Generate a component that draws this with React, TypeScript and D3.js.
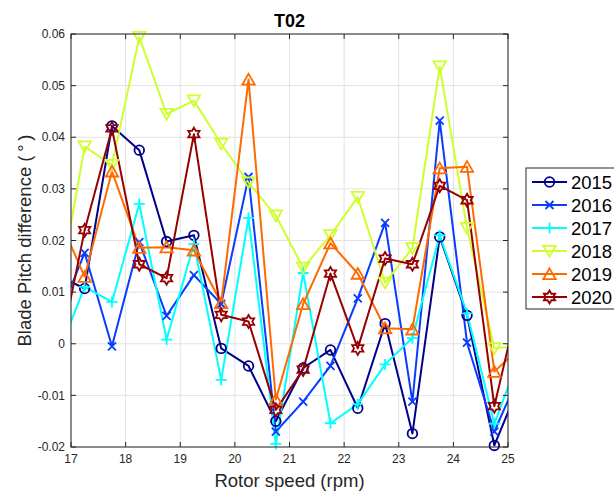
import React from 'react';
import * as d3 from 'd3';

// Rotor speed bins (outer two lie just outside the axis and are clipped)
const rpm = [16.75, 17.25, 17.75, 18.25, 18.75, 19.25, 19.75, 20.25, 20.75, 21.25, 21.75, 22.25, 22.75, 23.25, 23.75, 24.25, 24.75, 25.25];

const y2015 = [0.0133, 0.0107, 0.0422, 0.0375, 0.0198, 0.0210, -0.0009, -0.0043, -0.0150, -0.0047, -0.0012, -0.0125, 0.0039, -0.0174, 0.0207, 0.0055, -0.0197, -0.0069];
const y2016 = [0.0045, 0.0176, -0.0005, 0.0197, 0.0054, 0.0133, 0.0077, 0.0323, -0.0170, -0.0112, -0.0043, 0.0088, 0.0234, -0.0112, 0.0432, 0.0002, -0.0170, -0.0050];
const y2017 = [-0.0024, 0.0110, 0.0081, 0.0271, 0.0008, 0.0193, -0.0070, 0.0244, -0.0194, 0.0137, -0.0154, -0.0117, -0.0040, 0.0011, 0.0210, 0.0059, -0.0155, -0.0013];
const y2018 = [0.0084, 0.0382, 0.0346, 0.0594, 0.0445, 0.0471, 0.0387, 0.0312, 0.0248, 0.0147, 0.0210, 0.0284, 0.0118, 0.0185, 0.0537, 0.0224, -0.0009, -0.0004];
const y2019 = [0.0250, 0.0130, 0.0334, 0.0186, 0.0187, 0.0181, 0.0079, 0.0512, -0.0108, 0.0077, 0.0195, 0.0136, 0.0030, 0.0028, 0.0340, 0.0343, -0.0054, -0.0005];
const y2020 = [-0.0040, 0.0220, 0.0417, 0.0154, 0.0127, 0.0406, 0.0056, 0.0043, -0.0128, -0.0050, 0.0136, -0.0009, 0.0165, 0.0154, 0.0306, 0.0278, -0.0121, 0.0106];

const years = ['2015', '2016', '2017', '2018', '2019', '2020'];
const colors = ['#00008c', '#0a3cff', '#00ffff', '#cdff2e', '#ff6a00', '#960000'];
const markers = ['circle', 'x', 'plus', 'tdown', 'tup', 'hexagram'];
const seriesValues = [y2015, y2016, y2017, y2018, y2019, y2020];

const xTicks = [17, 18, 19, 20, 21, 22, 23, 24, 25];
const yTicks = [-0.02, -0.01, 0, 0.01, 0.02, 0.03, 0.04, 0.05, 0.06];
const yTickLabels = ['-0.02', '-0.01', '0', '0.01', '0.02', '0.03', '0.04', '0.05', '0.06'];

const W = 614, H = 494;
const L = 71, R = 508, T = 34, B = 447;
const FONT = "'Liberation Sans', Arial, Helvetica, sans-serif";
const AX = '#262626';

function hexagramPath(Ro: number) {
  const ri = Ro / Math.sqrt(3);
  const pts: string[] = [];
  for (let i = 0; i < 12; i++) {
    const a = -Math.PI / 2 + (i * Math.PI) / 6;
    const r = i % 2 === 0 ? Ro : ri;
    pts.push(`${(r * Math.cos(a)).toFixed(2)},${(r * Math.sin(a)).toFixed(2)}`);
  }
  return 'M' + pts.join('L') + 'Z';
}

function Marker({ type, x, y, color }: { type: string; x: number; y: number; color: string }) {
  const common = { fill: 'none', stroke: color, strokeWidth: 1.8 } as any;
  const tr = `translate(${x},${y})`;
  switch (type) {
    case 'circle':
      return <circle cx={x} cy={y} r={4.8} {...common} />;
    case 'x':
      return <path transform={tr} d="M-4,-4L4,4M-4,4L4,-4" {...common} />;
    case 'plus':
      return <path transform={tr} d="M-5.5,0H5.5M0,-5.5V5.5" {...common} />;
    case 'tdown':
      return <path transform={tr} d="M-6.2,-5.2L6.2,-5.2L0,5.6Z" {...common} />;
    case 'tup':
      return <path transform={tr} d="M0,-5.6L6.2,5.2L-6.2,5.2Z" {...common} />;
    case 'hexagram':
      return <path transform={tr} d={hexagramPath(6.5)} {...common} />;
    default:
      return null;
  }
}

export default function App() {
  const x = d3.scaleLinear().domain([17, 25]).range([L, R]);
  const y = d3.scaleLinear().domain([-0.02, 0.06]).range([B, T]);
  const line = d3.line<number>().x((_, i) => x(rpm[i])).y((d) => y(d));

  const legendX = 526, legendY = 168, legendRow = 23;

  return (
    <svg width={W} height={H} style={{ position: 'absolute', left: 0, top: 0, background: '#fff' }} fontFamily={FONT}>
      <defs>
        <clipPath id="plotclip">
          <rect x={L} y={T} width={R - L} height={B - T} />
        </clipPath>
      </defs>
      <rect x={0} y={0} width={W} height={H} fill="#fff" />
      {/* grid */}
      {xTicks.map((t) => (
        <line key={'gx' + t} x1={x(t)} x2={x(t)} y1={T} y2={B} stroke="#e2e2e2" strokeWidth={1} />
      ))}
      {yTicks.map((t) => (
        <line key={'gy' + t} x1={L} x2={R} y1={y(t)} y2={y(t)} stroke="#e2e2e2" strokeWidth={1} />
      ))}
      {/* series */}
      <g clipPath="url(#plotclip)">
        {seriesValues.map((vals, si) => (
          <path key={'l' + si} d={line(vals) || ''} fill="none" stroke={colors[si]} strokeWidth={2} strokeLinejoin="round" />
        ))}
      </g>
      <g>
        {seriesValues.map((vals, si) =>
          vals.map((v, i) =>
            rpm[i] >= 17 && rpm[i] <= 25 ? (
              <Marker key={`m${si}-${i}`} type={markers[si]} x={x(rpm[i])} y={y(v)} color={colors[si]} />
            ) : null
          )
        )}
      </g>
      {/* axes box */}
      <rect x={L} y={T} width={R - L} height={B - T} fill="none" stroke={AX} strokeWidth={1} />
      {xTicks.map((t) => (
        <g key={'tx' + t}>
          <line x1={x(t)} x2={x(t)} y1={B} y2={B - 5} stroke={AX} />
          <line x1={x(t)} x2={x(t)} y1={T} y2={T + 5} stroke={AX} />
          <text x={x(t)} y={463} textAnchor="middle" fontSize={12} fill={AX}>{t}</text>
        </g>
      ))}
      {yTicks.map((t, i) => (
        <g key={'ty' + t}>
          <line x1={L} x2={L + 5} y1={y(t)} y2={y(t)} stroke={AX} />
          <line x1={R} x2={R - 5} y1={y(t)} y2={y(t)} stroke={AX} />
          <text x={65} y={y(t) + 4.2} textAnchor="end" fontSize={12} fill={AX}>{yTickLabels[i]}</text>
        </g>
      ))}
      {/* labels */}
      <text x={(L + R) / 2} y={26.5} textAnchor="middle" fontSize={18} fontWeight="bold" fill="#000">T02</text>
      <text x={(L + R) / 2} y={487} textAnchor="middle" fontSize={18.5} fill={AX}>Rotor speed (rpm)</text>
      <text transform={`translate(31,${(T + B) / 2}) rotate(-90)`} textAnchor="middle" fontSize={18.5} fill={AX}>
        Blade Pitch difference ({'\u2009'}°{'\u2009'})
      </text>
      {/* legend */}
      <rect x={legendX} y={legendY} width={100} height={141} fill="#fff" stroke={AX} strokeWidth={1} />
      {years.map((yr, i) => {
        const cy = 182 + i * legendRow;
        return (
          <g key={'lg' + yr}>
            <line x1={532} x2={567} y1={cy} y2={cy} stroke={colors[i]} strokeWidth={2} />
            <Marker type={markers[i]} x={549.5} y={cy} color={colors[i]} />
            <text x={571} y={cy + 6.5} fontSize={18.5} fill="#000">{yr}</text>
          </g>
        );
      })}
    </svg>
  );
}
